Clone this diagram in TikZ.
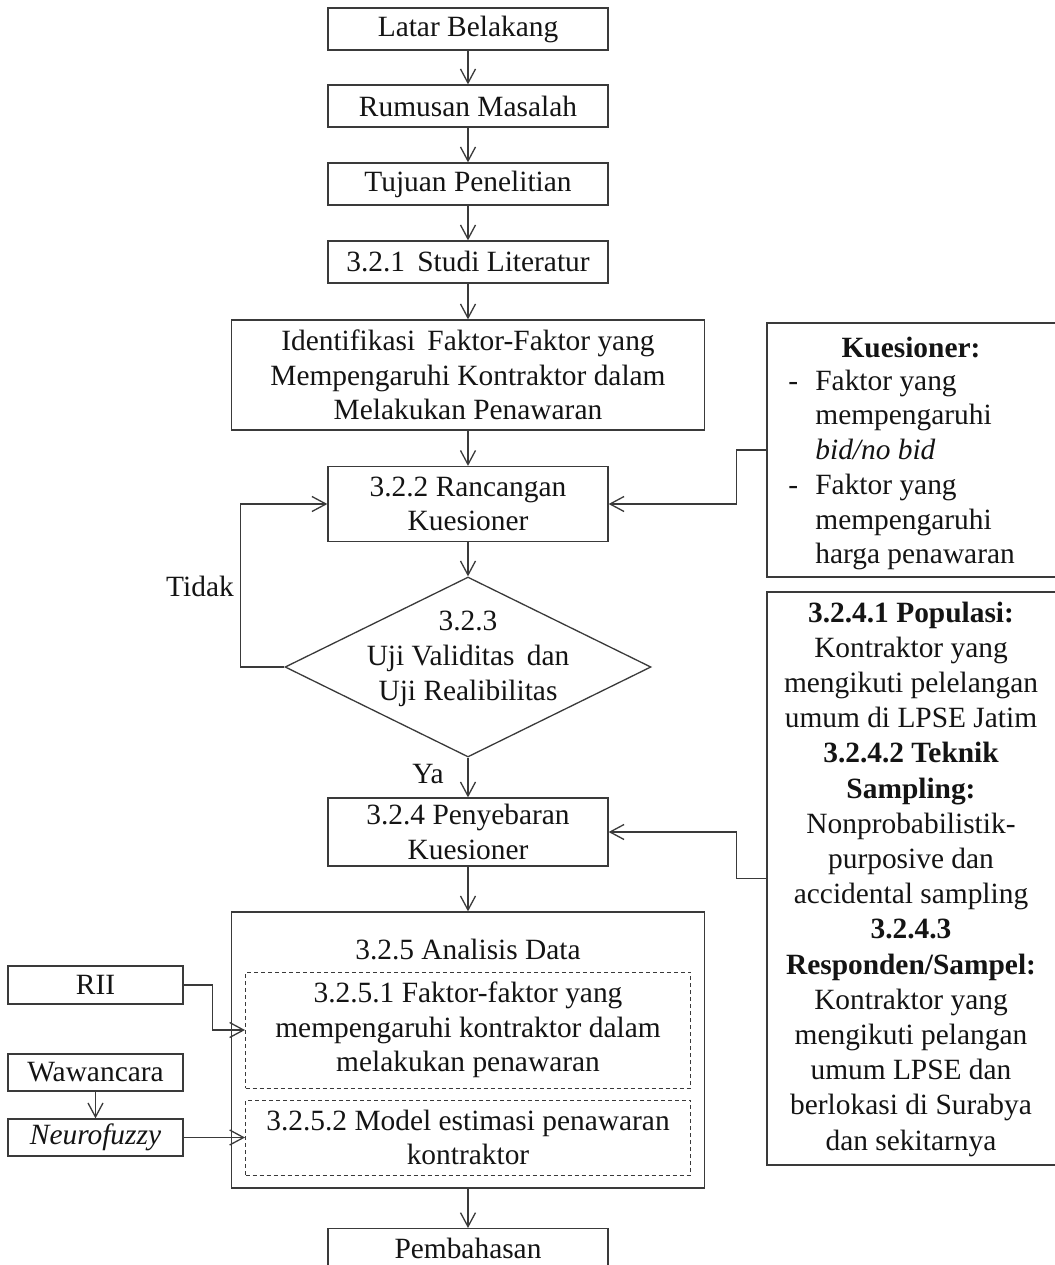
\documentclass[tikz,border=0pt]{standalone}
\usepackage{fontspec}
\setmainfont{Liberation Serif}
\usetikzlibrary{shapes.geometric,arrows.meta}
\definecolor{ink}{HTML}{3A3A3A}
\definecolor{txt}{HTML}{141414}
\begin{document}
\begin{tikzpicture}[x=0.5pt,y=-0.5pt,
  every node/.style={font=\fontsize{14.7}{17.35}\selectfont, text=txt},
  box/.style={draw=ink, line width=0.65pt, inner sep=0pt, align=center,
              minimum width=140pt, minimum height=21pt},
  sidebox/.style={box, minimum width=87.5pt, minimum height=18.5pt},
  dbox/.style={box, dashed, dash pattern=on 2pt off 1.5pt, line width=0.5pt,
               minimum width=222.5pt},
  plain/.style={inner sep=0pt, align=center},
  arr/.style={draw=ink, line width=0.65pt, -{Straight Barb[length=7pt,width=7.5pt]}},
]
\clip (0,0) rectangle (1055,1265);
\fill[white] (0,0) rectangle (1055,1265);

% main column
\node[box] (lb) at (468,29) {Latar Belakang};
\node[box] (rm) at (468,106) {Rumusan Masalah};
\node[box] (tp) at (468,184) {Tujuan Penelitian};
\node[box] (sl) at (468,262) {3.2.1\, Studi Literatur};
\node[box, minimum width=236.5pt, minimum height=55pt] (id) at (468,375)
  {Identifikasi\, Faktor-Faktor yang\\Mempengaruhi Kontraktor dalam\\Melakukan Penawaran};
\node[box, minimum height=37.5pt] (rk) at (468,504) {3.2.2 Rancangan\\Kuesioner};
\node[draw=ink, line width=0.65pt, diamond, inner sep=0pt,
      minimum width=183pt, minimum height=90pt] (dm) at (468,667) {};
\node[plain] (dmt) at (468,659) {3.2.3\\Uji Validitas\, dan\\Uji Realibilitas};
\node[box, minimum height=34pt] (pk) at (468,832) {3.2.4 Penyebaran\\Kuesioner};
\node[box, minimum width=236.5pt, minimum height=138pt] (ad) at (468,1050) {};
\node[plain] (adt) at (468,949) {3.2.5 Analisis Data};
\node[dbox, minimum height=58pt] (d1) at (468,1030)
  {3.2.5.1 Faktor-faktor yang\\mempengaruhi kontraktor dalam\\melakukan penawaran};
\node[dbox, minimum height=37.5pt] (d2) at (468,1137.5)
  {3.2.5.2 Model estimasi penawaran\\kontraktor};
\node[box, minimum height=19.5pt, anchor=north] (pb) at (468,1228) {Pembahasan};

% inputs on the left
\node[sidebox, minimum height=19pt] (rii) at (95.5,985) {RII};
\node[sidebox] (ww) at (95.5,1072.5) {Wawancara};
\node[sidebox] (nf) at (95.5,1137.5) {\itshape Neurofuzzy};

% notes on the right
\node[box, minimum width=146.5pt, minimum height=127pt] (kq) at (913.5,450) {};
\node[plain, font=\fontsize{14.7}{17.35}\selectfont\bfseries] (kqt) at (911,348) {Kuesioner:};
\node[plain, align=left, anchor=west] (kql) at (788,470)
  {\makebox[13.5pt][l]{-}Faktor yang\\
   \hspace*{13.5pt}mempengaruhi\\
   \hspace*{13.5pt}\textit{bid/no bid}\\
   \makebox[13.5pt][l]{-}Faktor yang\\
   \hspace*{13.5pt}mempengaruhi\\
   \hspace*{13.5pt}harga penawaran};
\node[box, minimum width=146.5pt, minimum height=286.5pt] (sp) at (913.5,878.5) {};
\node[plain, font=\fontsize{14.7}{17.6}\selectfont] (spt) at (911,879)
  {\textbf{3.2.4.1 Populasi:}\\
   Kontraktor yang\\
   mengikuti pelelangan\\
   umum di LPSE Jatim\\
   \textbf{3.2.4.2 Teknik}\\
   \textbf{Sampling:}\\
   Nonprobabilistik-\\
   purposive dan\\
   accidental sampling\\
   \textbf{3.2.4.3}\\
   \textbf{Responden/Sampel:}\\
   Kontraktor yang\\
   mengikuti pelangan\\
   umum LPSE dan\\
   berlokasi di Surabya\\
   dan sekitarnya};

% labels of the decision
\node[plain] (tidak) at (200,586) {Tidak};
\node[plain] (ya) at (428,774) {Ya};

% connectors
\draw[arr] (lb) -- (rm);
\draw[arr] (rm) -- (tp);
\draw[arr] (tp) -- (sl);
\draw[arr] (sl) -- (id);
\draw[arr] (id) -- (rk);
\draw[arr] (rk) -- (dm);
\draw[arr] (dm) -- (pk);
\draw[arr] (pk) -- (ad);
\draw[arr] (ad) -- (pb);
\draw[arr] (dm.west) -- ++(-44,0) |- (rk.west);
\draw[arr] (kq.west) -- ++(-30,0) |- (rk.east);
\draw[arr] (sp.west) -- ++(-30,0) |- (pk.east);
\draw[arr] (rii.east) -- ++(29,0) |- (d1.west);
\draw[arr] (ww) -- (nf);
\draw[arr] (nf.east) -- (d2.west);
\end{tikzpicture}
\end{document}
